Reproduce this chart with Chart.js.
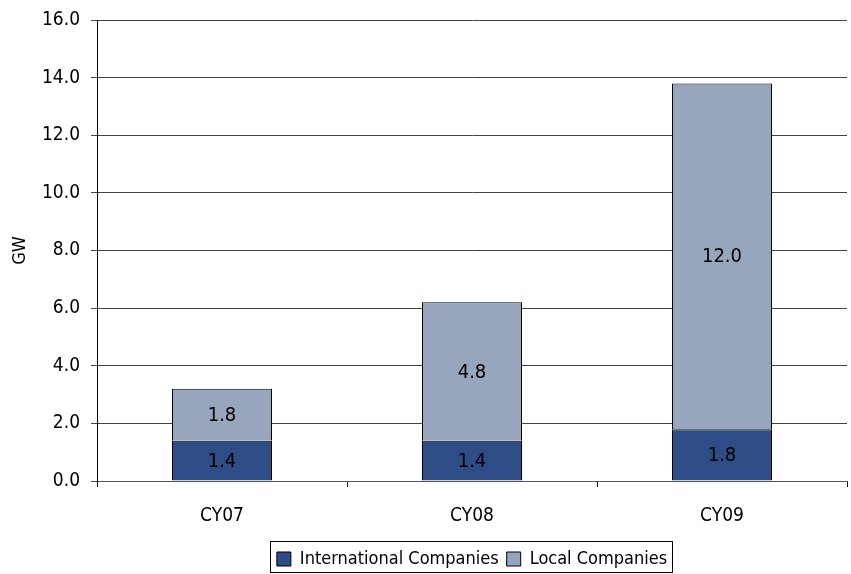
<!DOCTYPE html>
<html>
<head>
<meta charset="utf-8">
<script src="https://cdn.jsdelivr.net/npm/chart.js@4/dist/chart.umd.min.js"></script>
<style>
  html, body { margin: 0; padding: 0; background: #fff; }
  #wrap { width: 851px; height: 574px; position: relative; }
</style>
</head>
<body>
<div id="wrap"><canvas id="c" width="851" height="574"></canvas></div>
<script>
const categories = ['CY07', 'CY08', 'CY09'];
const internationalCompanies = [1.4, 1.4, 1.8];
const localCompanies = [1.8, 4.8, 12.0];
const seriesNames = ['International Companies', 'Local Companies'];
const yTicks = [0, 2, 4, 6, 8, 10, 12, 14, 16];

const FONT = "'Liberation Sans Narrow', 'Arial Narrow', 'DejaVu Sans Condensed', sans-serif";

const dataLabels = {
  id: 'dataLabels',
  afterDatasetsDraw(chart) {
    const ctx = chart.ctx;
    ctx.save();
    ctx.font = '20px ' + FONT;
    ctx.fillStyle = '#000';
    ctx.textAlign = 'center';
    ctx.textBaseline = 'middle';
    chart.data.datasets.forEach((ds, i) => {
      const meta = chart.getDatasetMeta(i);
      meta.data.forEach((el, j) => {
        const v = ds.data[j];
        ctx.fillText(v.toFixed(1), el.x, (el.y + el.base) / 2 + 1);
      });
    });
    ctx.restore();
  }
};

const legendBorder = {
  id: 'legendBorder',
  afterLayout(chart) {
    if (chart.legend) {
      chart.legend.left = chart.chartArea.left;
      chart.legend.right = chart.chartArea.right;
    }
  },
  afterDraw(chart) {
    const boxes = chart.legend && chart.legend.legendHitBoxes;
    if (!boxes || !boxes.length) return;
    let l = Infinity, r = -Infinity, t = Infinity, b = -Infinity;
    boxes.forEach(h => { l = Math.min(l, h.left); r = Math.max(r, h.left + h.width); t = Math.min(t, h.top); b = Math.max(b, h.top + h.height); });
    const ctx = chart.ctx;
    const top = Math.round(t - 9) + 0.5;
    const bottom = Math.min(Math.round(b + 6), chart.height - 2) + 0.5;
    ctx.save();
    ctx.strokeStyle = '#000';
    ctx.lineWidth = 1;
    ctx.strokeRect(Math.round(l - 7) + 0.5, top, Math.round(r - l + 12), bottom - top);
    ctx.restore();
  }
};

new Chart(document.getElementById('c'), {
  type: 'bar',
  data: {
    labels: categories,
    datasets: [
      { label: seriesNames[0], data: internationalCompanies, backgroundColor: '#2E4D87', borderColor: '#000', borderWidth: 1, barPercentage: 0.4, categoryPercentage: 1 },
      { label: seriesNames[1], data: localCompanies, backgroundColor: '#97A6BC', borderColor: '#000', borderWidth: 1, barPercentage: 0.4, categoryPercentage: 1 }
    ]
  },
  options: {
    responsive: false,
    animation: false,
    devicePixelRatio: 1,
    layout: { padding: { top: 20, right: 4, left: 0, bottom: -4 } },
    plugins: {
      tooltip: { enabled: false },
      legend: {
        position: 'bottom',
        labels: {
          font: { family: FONT, size: 18 },
          color: '#000',
          boxWidth: 14,
          boxHeight: 14,
          padding: 8
        }
      }
    },
    scales: {
      x: {
        stacked: true,
        grid: { drawOnChartArea: false, drawTicks: true, tickLength: 6, color: '#000', offset: true },
        border: { color: '#555', width: 1 },
        ticks: { font: { family: FONT, size: 19 }, color: '#000', padding: 18 },
        afterFit(scale) { scale.height = 61; }
      },
      y: {
        stacked: true,
        min: 0,
        max: 16,
        afterBuildTicks(scale) { scale.ticks = yTicks.map(v => ({ value: v })); },
        grid: { color: '#444', tickLength: 6, drawTicks: true },
        border: { color: '#000', width: 1 },
        ticks: { font: { family: FONT, size: 19, lineHeight: 0.9 }, color: '#000', padding: 11, callback: v => Number(v).toFixed(1) },
        title: { display: true, text: 'GW', font: { family: FONT, size: 18 }, color: '#000', padding: { top: 10, bottom: 0 } },
        afterFit(scale) { scale.width = 97; }
      }
    }
  },
  plugins: [dataLabels, legendBorder]
});
</script>
</body>
</html>
